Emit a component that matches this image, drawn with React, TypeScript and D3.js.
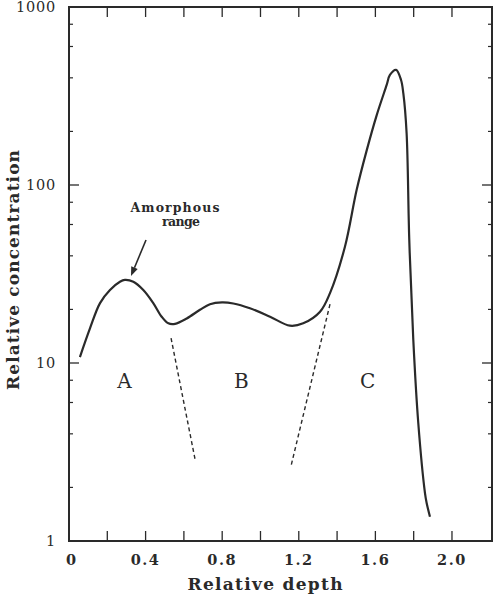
import * as d3 from 'd3';

// main profile (relative depth, relative concentration)
const depth = [0.057, 0.11, 0.162, 0.214, 0.266, 0.292, 0.336, 0.388, 0.44, 0.484, 0.519, 0.554,
  0.615, 0.684, 0.736, 0.799, 0.858, 0.945, 1.05, 1.154, 1.223, 1.311, 1.363, 1.441, 1.502,
  1.555, 1.607, 1.659, 1.676, 1.708, 1.734, 1.746, 1.763, 1.777, 1.798,
  1.824, 1.859, 1.868, 1.885];
const conc = [10.8, 15.7, 21.7, 25.7, 28.6, 29.3, 28.6, 25.7, 21.7, 18.2, 16.7, 16.6,
  17.8, 19.9, 21.4, 21.9, 21.6, 20.3, 18.2, 16.2, 16.7, 19.4, 24.7, 45, 93.7,
  157, 247, 365, 415, 443, 389, 327, 196, 49.1, 13.5,
  4.6, 1.86, 1.63, 1.37];

// dashed boundaries between regions
const boundAB_depth = [0.533, 0.658];
const boundAB_conc = [13.8, 2.89];
const boundBC_depth = [1.363, 1.158];
const boundBC_conc = [21.4, 2.6];

const regionNames = ['A', 'B', 'C'];
const regionDepth = [0.29, 0.9, 1.56];
const regionConc = [7.2, 7.2, 7.2];

const xTickValues = [0, 0.4, 0.8, 1.2, 1.6, 2.0];
const xTickLabels = ['0', '0.4', '0.8', '1.2', '1.6', '2.0'];
const xMinorValues = [0.2, 0.4, 0.6, 0.8, 1.0, 1.2, 1.4, 1.6, 1.8, 2.0];
const yTickValues = [1, 10, 100, 1000];
const yMinorValues = [2, 4, 6, 8, 20, 40, 60, 80, 200, 400, 600, 800];

const INK = '#2a2a2a';
const FONT = '"DejaVu Serif", serif';

export default function App() {
  const W = 496, H = 596;
  const left = 69, right = 492, top = 7, bottom = 541;

  const x = d3.scaleLinear().domain([0, 2.209]).range([left, right]);
  const y = d3.scaleLog().domain([1, 1000]).range([bottom, top]);

  const pts: [number, number][] = depth.map((d, i) => [x(d), y(conc[i])]);
  const line = d3.line().curve(d3.curveCatmullRom.alpha(0.5));
  const profile = line(pts) || '';

  const seg = (ds: number[], cs: number[]) =>
    d3.line()(ds.map((d, i) => [x(d), y(cs[i])] as [number, number])) || '';

  // arrow for "Amorphous range"
  const ax0 = 146, ay0 = 240, ax1 = 131, ay1 = 276;
  const ang = Math.atan2(ay1 - ay0, ax1 - ax0);
  const hl = 9, hw = 3.5;
  const bx = ax1 - hl * Math.cos(ang), by = ay1 - hl * Math.sin(ang);
  const head = `M${ax1},${ay1}L${bx + hw * Math.sin(ang)},${by - hw * Math.cos(ang)}L${bx - hw * Math.sin(ang)},${by + hw * Math.cos(ang)}Z`;

  return (
    <svg width={W} height={H} style={{ display: 'block', position: 'absolute', left: 0, top: 0, background: '#fff' }}>
      <rect x={left} y={top} width={right - left} height={bottom - top} fill="none" stroke={INK} strokeWidth={2} />

      {/* x ticks, bottom and top */}
      {xMinorValues.map(v => (
        <g key={'xt' + v}>
          <line x1={x(v)} x2={x(v)} y1={bottom} y2={bottom - 10} stroke={INK} strokeWidth={1.3} />
          <line x1={x(v)} x2={x(v)} y1={top} y2={top + 10} stroke={INK} strokeWidth={1.3} />
        </g>
      ))}
      {/* y ticks, left and right */}
      {yTickValues.slice(1, 3).map(v => (
        <g key={'ym' + v}>
          <line x1={left} x2={left + 10} y1={y(v)} y2={y(v)} stroke={INK} strokeWidth={1.3} />
          <line x1={right} x2={right - 10} y1={y(v)} y2={y(v)} stroke={INK} strokeWidth={1.3} />
        </g>
      ))}
      {yMinorValues.map(v => (
        <g key={'yn' + v}>
          <line x1={left} x2={left + 4} y1={y(v)} y2={y(v)} stroke={INK} strokeWidth={1.2} />
          <line x1={right} x2={right - 4} y1={y(v)} y2={y(v)} stroke={INK} strokeWidth={1.2} />
        </g>
      ))}

      {/* tick labels */}
      {xTickValues.map((v, i) => (
        <text key={'xl' + v} x={x(v) + (i === 0 ? 2 : 0)} y={565} textAnchor="middle" fontFamily={FONT}
          fontSize={14.5} fontWeight="bold" fill={INK} letterSpacing={i === 0 ? 0 : 1.5}>{xTickLabels[i]}</text>
      ))}
      {yTickValues.map(v => (
        <text key={'yl' + v} x={56} y={y(v) + 5} textAnchor="end" fontFamily={FONT}
          fontSize={14.5} fill={INK} letterSpacing={0.8}>{String(v)}</text>
      ))}

      {/* axis titles */}
      <text x={265} y={590} textAnchor="middle" fontFamily={FONT} fontSize={17} fontWeight="bold"
        fill={INK} textLength={155} lengthAdjust="spacing">Relative depth</text>
      <text transform={`translate(19,270) rotate(-90)`} textAnchor="middle" fontFamily={FONT} fontSize={17}
        fontWeight="bold" fill={INK} textLength={240} lengthAdjust="spacing">Relative concentration</text>

      {/* boundaries */}
      <path d={seg(boundAB_depth, boundAB_conc)} fill="none" stroke={INK} strokeWidth={1.4} strokeDasharray="4,3" />
      <path d={seg(boundBC_depth, boundBC_conc)} fill="none" stroke={INK} strokeWidth={1.4} strokeDasharray="4,3" />

      {/* profile */}
      <path d={profile} fill="none" stroke={INK} strokeWidth={2.2} strokeLinejoin="round" />

      {/* region labels */}
      {regionNames.map((n, i) => (
        <text key={n} x={x(regionDepth[i])} y={y(regionConc[i])} textAnchor="middle" fontFamily={FONT}
          fontSize={20} fill={INK}>{n}</text>
      ))}

      {/* annotation */}
      <text x={175} y={212} textAnchor="middle" fontFamily={FONT} fontSize={12.5} fontWeight="bold" fill={INK}
        textLength={89} lengthAdjust="spacing">Amorphous</text>
      <text x={181} y={226} textAnchor="middle" fontFamily={FONT} fontSize={12.5} fontWeight="bold" fill={INK}
        textLength={38} lengthAdjust="spacing">range</text>
      <line x1={ax0} y1={ay0} x2={bx} y2={by} stroke={INK} strokeWidth={1.6} />
      <path d={head} fill={INK} />
    </svg>
  );
}
